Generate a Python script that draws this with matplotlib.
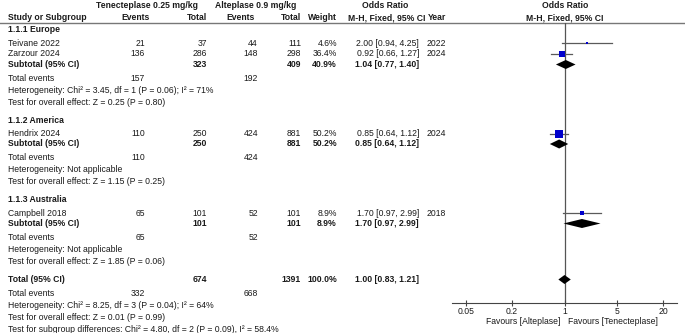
import numpy as np
import matplotlib
matplotlib.use("Agg")
import matplotlib.pyplot as plt
from matplotlib.ticker import FixedLocator, NullLocator

plt.rcParams['font.family'] = ['Liberation Sans', 'DejaVu Sans']

# study level data
groups = ["1.1.1 Europe", "1.1.2 America", "1.1.3 Australia"]
studies = ["Teivane 2022", "Zarzour 2024", "Hendrix 2024", "Campbell 2018"]
study_group = [0, 0, 1, 2]
tnk_events = [21, 136, 110, 65]
tnk_total = [37, 286, 250, 101]
alt_events = [44, 148, 424, 52]
alt_total = [111, 298, 881, 101]
weights = [4.6, 36.4, 50.2, 8.9]
or_est = [2.00, 0.92, 0.85, 1.70]
or_lo = [0.94, 0.66, 0.64, 0.97]
or_hi = [4.25, 1.27, 1.12, 2.99]
years = [2022, 2024, 2024, 2018]

# subgroup summaries
sub_tnk_total = [323, 250, 101]
sub_alt_total = [409, 881, 101]
sub_weight = [40.9, 50.2, 8.9]
sub_or = [1.04, 0.85, 1.70]
sub_lo = [0.77, 0.64, 0.97]
sub_hi = [1.40, 1.12, 2.99]
sub_tnk_events = [157, 110, 65]
sub_alt_events = [192, 424, 52]
sub_het = ["Heterogeneity: Chi² = 3.45, df = 1 (P = 0.06); I² = 71%",
           "Heterogeneity: Not applicable",
           "Heterogeneity: Not applicable"]
sub_test = ["Test for overall effect: Z = 0.25 (P = 0.80)",
            "Test for overall effect: Z = 1.15 (P = 0.25)",
            "Test for overall effect: Z = 1.85 (P = 0.06)"]

# overall
tot_tnk_total, tot_alt_total, tot_weight = 674, 1391, 100.0
tot_or, tot_lo, tot_hi = 1.00, 0.83, 1.21
tot_tnk_events, tot_alt_events = 332, 668
tot_het = "Heterogeneity: Chi² = 8.25, df = 3 (P = 0.04); I² = 64%"
tot_test = "Test for overall effect: Z = 0.01 (P = 0.99)"
sub_diff = "Test for subgroup differences: Chi² = 4.80, df = 2 (P = 0.09), I² = 58.4%"

ticks = [0.05, 0.2, 1, 5, 20]
tick_labels = ["0.05", "0.2", "1", "5", "20"]

W, H = 685, 333
fs = 6.2
tc = '#1a1a1a'

fig = plt.figure(figsize=(W / 100, H / 100), dpi=100)
tab = fig.add_axes([0, 0, 1, 1])
tab.set_xlim(0, W)
tab.set_ylim(H, 0)
tab.axis('off')

# forest panel, y in pixel rows
px_l, px_r, px_t, px_b = 451.6, 677.4, 23, 303
ax = fig.add_axes([px_l / W, 1 - px_b / H, (px_r - px_l) / W, (px_b - px_t) / H])
ax.set_xscale('log')
ax.set_xlim(1 / 31, 31)
ax.set_ylim(px_b, px_t)
ax.patch.set_alpha(0)
for s in ['top', 'left', 'right']:
    ax.spines[s].set_visible(False)
ax.spines['bottom'].set_color('#444444')
ax.spines['bottom'].set_linewidth(0.8)
ax.xaxis.set_major_locator(FixedLocator(ticks))
ax.xaxis.set_minor_locator(NullLocator())
ax.set_xticklabels(tick_labels)
ax.tick_params(axis='x', direction='inout', length=4, width=0.8, color='#444444',
               labelsize=fs, labelcolor=tc, pad=1)
ax.set_yticks([])
ax.axvline(1, color='#555555', lw=0.9, zorder=1)


def txt(x, y, s, ha='left', bold=False):
    tab.text(x, y, s, ha=ha, va='center', fontsize=fs, color=tc,
             fontweight='bold' if bold else 'normal')


def diamond(y, est, lo, hi, h=4.5):
    ax.fill([lo, est, hi, est], [y, y - h, y, y + h], color='black', lw=0, zorder=3)


# header
tab.plot([0, W], [23, 23], color='#777777', lw=1.0)
txt(147, 6, "Tenecteplase 0.25 mg/kg", 'center', True)
txt(256, 6, "Alteplase 0.9 mg/kg", 'center', True)
txt(385, 6, "Odds Ratio", 'center', True)
txt(565, 6, "Odds Ratio", 'center', True)
txt(8, 18, "Study or Subgroup", bold=True)
txt(150, 18, "Events", 'right', True)
txt(207, 18, "Total", 'right', True)
txt(255, 18, "Events", 'right', True)
txt(301, 18, "Total", 'right', True)
txt(337, 18, "Weight", 'right', True)
txt(387, 18, "M-H, Fixed, 95% CI", 'center', True)
txt(446, 18, "Year", 'right', True)
txt(565, 18, "M-H, Fixed, 95% CI", 'center', True)

y = 30
for g, gname in enumerate(groups):
    txt(8, y, gname, bold=True)
    y += 13
    idx = [i for i, sg in enumerate(study_group) if sg == g]
    for k, i in enumerate(idx):
        if k > 0:
            y += 11
        txt(8, y, studies[i])
        txt(145, y, str(tnk_events[i]), 'right')
        txt(207, y, str(tnk_total[i]), 'right')
        txt(258, y, str(alt_events[i]), 'right')
        txt(301, y, str(alt_total[i]), 'right')
        txt(337, y, f"{weights[i]:.1f}%", 'right')
        txt(419, y, f"{or_est[i]:.2f} [{or_lo[i]:.2f}, {or_hi[i]:.2f}]", 'right')
        txt(446, y, str(years[i]), 'right')
        ax.plot([or_lo[i], or_hi[i]], [y, y], color='#5a5a5a', lw=0.9, zorder=2)
        side = 1.1 * np.sqrt(weights[i]) * 0.72
        ax.plot([or_est[i]], [y], marker='s', ms=side, color='#0000cc', mew=0, zorder=3)
    y += 10.5
    txt(8, y, "Subtotal (95% CI)", bold=True)
    txt(207, y, str(sub_tnk_total[g]), 'right', True)
    txt(301, y, str(sub_alt_total[g]), 'right', True)
    txt(337, y, f"{sub_weight[g]:.1f}%", 'right', True)
    txt(419, y, f"{sub_or[g]:.2f} [{sub_lo[g]:.2f}, {sub_hi[g]:.2f}]", 'right', True)
    diamond(y, sub_or[g], sub_lo[g], sub_hi[g])
    y += 14
    txt(8, y, "Total events")
    txt(145, y, str(sub_tnk_events[g]), 'right')
    txt(258, y, str(sub_alt_events[g]), 'right')
    y += 12
    txt(8, y, sub_het[g])
    y += 12
    txt(8, y, sub_test[g])
    y += 18

txt(8, y, "Total (95% CI)", bold=True)
txt(207, y, str(tot_tnk_total), 'right', True)
txt(301, y, str(tot_alt_total), 'right', True)
txt(337, y, f"{tot_weight:.1f}%", 'right', True)
txt(419, y, f"{tot_or:.2f} [{tot_lo:.2f}, {tot_hi:.2f}]", 'right', True)
diamond(y, tot_or, tot_lo, tot_hi)
y += 14
txt(8, y, "Total events")
txt(145, y, str(tot_tnk_events), 'right')
txt(258, y, str(tot_alt_events), 'right')
y += 12
txt(8, y, tot_het)
y += 12
txt(8, y, tot_test)
y += 12
txt(8, y, sub_diff)

txt(560, 321, "Favours [Alteplase]", 'right')
txt(568, 321, "Favours [Tenecteplase]", 'left')

fig.savefig("out.png", dpi=100)
